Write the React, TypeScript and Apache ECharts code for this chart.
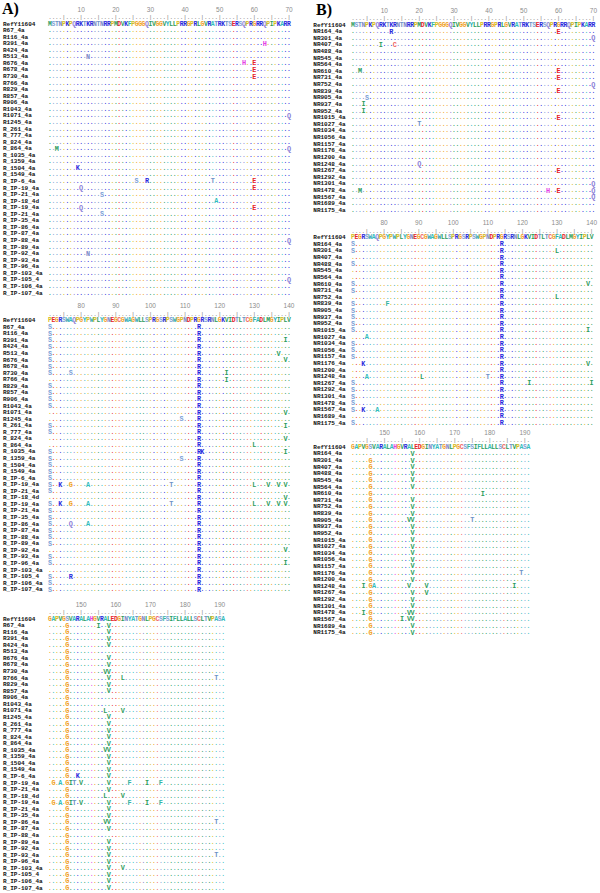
import React, { useEffect, useRef } from 'react';
import * as echarts from 'echarts';

// ---------------- data ----------------
const refName = 'RefY11604';
const refSeq1 = 'MSTNPKPQRKTKRNTNRRPMDVKFPGGGQIVGGVYLLPRRGPRLGVRATRKTSERSQPRGRRQPIPKARR'; // 1-70
const refSeq2 = 'PEGRSWAQPGYPWPLYGNEGCGWAGWLLSPRGSRPSWGPNDPRGRSRNLGKVIDTLTCGFADLMGYIPLV'; // 71-140
const refSeq3 = 'GAPVGSVARALAHGVRALEDGINYATGNLPGCSFSIFLLALLSCLTVPASA'; // 141-191
const blockStarts = [1, 71, 141];
const blockEnds = [70, 140, 191];
const rulerNumbers = [10, 20, 30, 40, 50, 60, 70, 80, 90, 100, 110, 120, 130, 140, 150, 160, 170, 180, 190];

const samplesA = [
  'R67_4a', 'R116_4a', 'R391_4a', 'R424_4a', 'R513_4a', 'R676_4a', 'R678_4a', 'R730_4a', 'R766_4a',
  'R829_4a', 'R857_4a', 'R906_4a', 'R1043_4a', 'R1071_4a', 'R1245_4a', 'R_261_4a', 'R_777_4a',
  'R_824_4a', 'R_864_4a', 'R_1035_4a', 'R_1359_4a', 'R_1504_4a', 'R_1549_4a', 'R_IP-6_4a',
  'R_IP-19_4a', 'R_IP-21_4a', 'R_IP-18_4d', 'R_IP-19_4a', 'R_IP-21_4a', 'R_IP-35_4a', 'R_IP-86_4a',
  'R_IP-87_4a', 'R_IP-88_4a', 'R_IP-89_4a', 'R_IP-92_4a', 'R_IP-93_4a', 'R_IP-96_4a', 'R_IP-103_4a',
  'R_IP-105_4', 'R_IP-106_4a', 'R_IP-107_4a',
];
// substitutions per sample: position + residue
const variantsA = [
  '71S 114R 146G 155I 158V',
  '71S 114R 146G 158V',
  '63H 71S 114R 139I 146G 158V',
  '71S 114R 146G 158V',
  '12N 71S 114R 137V 146G',
  '57H 60E 71S 114R 139V 146G 158V',
  '60E 71S 114R 146G 158V',
  '60E 71S 77S 114R 122I 146G 157V 158V',
  '114R 122I 146G 158V 162L 189T',
  '71S 114R 146G 158V',
  '71S 114R 146G 158V',
  '71S 114R 146G',
  '71S 114R 146G',
  '70Q 114R 139V 146G 157L 162V',
  '109S 114R 146G 158V',
  '71S 114R 139I 146G 158V',
  '71S 114R 146G 158V',
  '114R 139V 146G 158V',
  '3M 70Q 114R 130L 146G 158V',
  '71S 114R 115K 139I 146G 157V 158V',
  '71S 109S 114R 146G 158V',
  '9K 71S 114R 146G 158V',
  '71S 114R 146G 158V',
  '26S 29R 48T 60E 71S 114R 146G 149K 158V',
  '10Q 60E 71S 74K 77G 82A 106T 114R 130L 134V 137V 139V 142G 144A 146G 147I 148T 150V 158V 164F 169I 173F',
  '16S 71S 114R 146G 158V',
  '49A 114R 139V 146G 157L 162V',
  '10Q 60E 71S 74K 77G 82A 106T 114R 130L 134V 137V 139V 142G 144A 146G 147I 148T 150V 158V 164F 169I 173F',
  '16S 71S 114R 146G 158V',
  '71S 114R 146G 158V',
  '71S 77Q 82A 114R 146G 157V 158V 189T',
  '71S 114R 146G 158V',
  '70Q 71S 114R 146G',
  '71S 114R 146G 158V',
  '12N 114R 139V 146G 158V',
  '71S 114R 146G 158V 189T',
  '71S 114R 139I 146G 158V',
  '114R 146G 158V 162V',
  '70Q 71S 77R 114R 146G 158V',
  '71S 114R 146G 158V',
  '71S 114R 146G 158V',
];

const samplesB = [
  'NR164_4a', 'NR301_4a', 'NR407_4a', 'NR488_4a', 'NR545_4a', 'NR564_4a', 'NR610_4a', 'NR731_4a',
  'NR752_4a', 'NR839_4a', 'NR905_4a', 'NR937_4a', 'NR952_4a', 'NR1015_4a', 'NR1027_4a', 'NR1034_4a',
  'NR1056_4a', 'NR1157_4a', 'NR1176_4a', 'NR1200_4a', 'NR1248_4a', 'NR1267_4a', 'NR1292_4a',
  'NR1301_4a', 'NR1478_4a', 'NR1567_4a', 'NR1689_4a', 'NR1175_4a',
];
const variantsB = [
  '12R 60E 71S 114R 158V',
  '70Q 71S 114R 130L 146G 158V',
  '9I 13C 114R 146G 158V',
  '71S 114R 146G 158V',
  '114R 146G 158V',
  '114R 146G 158V',
  '3M 60E 71S 114R 139V 146G 178I',
  '60E 71S 114R 146G 158V',
  '70Q 114R 130L 146G 158V',
  '60E 71S 81F 114R 146G 158V',
  '5S 71S 114R 146G 157V 158V 175T',
  '4I 71S 114R 146G 158V',
  '4I 71S 114R 146G 158V',
  '60E 71S 114R 139I 146G 158V',
  '20T 75A 114R 146G 158V',
  '71S 114R 146G 158V',
  '71S 114R 146G 158V',
  '71S 114R 146G 158V',
  '74K 114R 139V 146G 158V 189T',
  '114R 146G 158V',
  '20Q 75A 91L 110T 114R 144I 146G 147A 157V 162V 187I',
  '60E 71S 114R 122I 140I 146G 158V 162V',
  '71S 114R 146G 158V',
  '70Q 71S 114R 146G 158V',
  '3M 57H 60E 70Q 71S 114R 144I 146G 157V 158V',
  '70Q 71S 74K 78A 114R 146G 155I 157V 158V',
  '114R 146G 158V',
  '71S 114R 146G 158V',
];

// ---------------- styling ----------------
const COLORS: Record<string, string> = {
  A: '#2fbcbc', R: '#2727dc', K: '#2727dc', N: '#7b86c6', Q: '#8a7dd6',
  D: '#e6222a', E: '#e6222a', S: '#7c9fd6', T: '#6d91c6', G: '#f0a01c',
  P: '#d6bc1e', C: '#ef6464', H: '#e43ee4', I: '#2c9c5c', L: '#2c9c5c',
  V: '#2c9c5c', M: '#2c9c5c', F: '#33b4a4', Y: '#1fb2c2', W: '#35a6b2',
};
const MONO = '"Liberation Mono", "DejaVu Sans Mono", monospace';
const COL_W = 3.507;
const N_COLS = 70;

type Item = { value: [number, number]; ch: string; color: string; kind: number };

const refSeq = refSeq1 + refSeq2 + refSeq3;

function parseVariants(v: string): Record<number, string> {
  const m: Record<number, string> = {};
  v.split(' ').filter(Boolean).forEach((t) => {
    const p = parseInt(t, 10);
    m[p] = t.replace(/^\d+/, '');
  });
  return m;
}

function buildBlock(variants: string[], b: number): Item[] {
  const start = blockStarts[b];
  const end = blockEnds[b];
  const maps = variants.map(parseVariants);
  const items: Item[] = [];
  for (let p = start; p <= end; p++) {
    const col = p - start;
    items.push({ value: [col, 0], ch: p % 5 === 0 ? '|' : '.', color: '#7a7a7a', kind: 0 });
    const r = refSeq[p - 1];
    items.push({ value: [col, 1], ch: r, color: COLORS[r] || '#333', kind: 1 });
    maps.forEach((m, i) => {
      const mut = m[p];
      if (mut) items.push({ value: [col, i + 2], ch: mut, color: COLORS[mut] || '#333', kind: 2 });
      else items.push({ value: [col, i + 2], ch: '.', color: COLORS[r] || '#999', kind: 3 });
    });
  }
  return items;
}

const panels = [
  { samples: samplesA, variants: variantsA, left: 45.25, nameX: 0, step: 6.56, tops: [14.2, 310.9, 609.2] },
  { samples: samplesB, variants: variantsB, left: 351.25, nameX: 313.3, step: 6.62, tops: [15.07, 227.8, 437.4] },
];

function buildOption() {
  const grid: any[] = [];
  const xAxis: any[] = [];
  const yAxis: any[] = [];
  const series: any[] = [];
  let gi = 0;
  panels.forEach((pn) => {
    const names = ['', refName, ...pn.samples];
    for (let b = 0; b < 3; b++) {
      const start = blockStarts[b];
      const end = blockEnds[b];
      grid.push({
        left: pn.left,
        top: pn.tops[b],
        width: N_COLS * COL_W,
        height: names.length * pn.step,
        containLabel: false,
      });
      const cats = Array.from({ length: N_COLS }, (_, i) => String(start + i));
      xAxis.push({
        type: 'category',
        gridIndex: gi,
        position: 'top',
        data: cats,
        axisLine: { show: false },
        axisTick: { show: false },
        splitLine: { show: false },
        axisLabel: {
          show: true,
          interval: (_i: number, v: string) => {
            const n = Number(v);
            return rulerNumbers.includes(n) && n <= end;
          },
          fontSize: 6.5,
          color: '#8c8c8c',
          fontFamily: '"Liberation Sans", Arial, sans-serif',
          margin: 1.5,
        },
      });
      yAxis.push({
        type: 'category',
        gridIndex: gi,
        inverse: true,
        data: names,
        axisLine: { show: false },
        axisTick: { show: false },
        splitLine: { show: false },
        axisLabel: {
          show: true,
          interval: 0,
          align: 'left',
          margin: pn.left - pn.nameX,
          fontSize: 6,
          fontWeight: 'bold',
          fontFamily: MONO,
          color: '#111111',
        },
      });
      const items = buildBlock(pn.variants, b);
      series.push({
        type: 'custom',
        xAxisIndex: gi,
        yAxisIndex: gi,
        progressive: 0,
        silent: true,
        animation: false,
        encode: { x: 0, y: 1 },
        data: items,
        renderItem: (params: any, api: any) => {
          const it = items[params.dataIndex];
          const pt = api.coord([api.value(0), api.value(1)]);
          const isDot = it.kind === 3;
          const isRuler = it.kind === 0;
          const size = isRuler ? 6 : it.kind === 2 ? 6.8 : 6.4;
          return {
            type: 'text',
            x: pt[0],
            y: pt[1],
            silent: true,
            style: {
              text: it.ch,
              fill: it.color,
              opacity: isDot ? 0.9 : 1,
              font: `${isRuler ? 'normal' : 'bold'} ${size}px ${MONO}`,
              align: 'center',
              verticalAlign: 'middle',
              textAlign: 'center',
              textVerticalAlign: 'middle',
            },
          };
        },
      });
      gi++;
    }
  });

  return {
    animation: false,
    backgroundColor: '#ffffff',
    grid,
    xAxis,
    yAxis,
    series,
    graphic: [
      {
        type: 'text',
        left: 2,
        top: 0,
        style: { text: 'A)', font: 'bold 16px "Liberation Serif", serif', fill: '#000' },
      },
      {
        type: 'text',
        left: 316,
        top: 1,
        style: { text: 'B)', font: 'bold 16px "Liberation Serif", serif', fill: '#000' },
      },
    ],
  };
}

export default function App() {
  const ref = useRef<HTMLDivElement>(null);
  useEffect(() => {
    document.body.style.margin = '0';
    if (!ref.current) return;
    const chart = echarts.init(ref.current, undefined, { renderer: 'svg' });
    chart.setOption(buildOption() as any);
    return () => {
      chart.dispose();
    };
  }, []);
  return <div ref={ref} style={{ width: 600, height: 893 }} />;
}
